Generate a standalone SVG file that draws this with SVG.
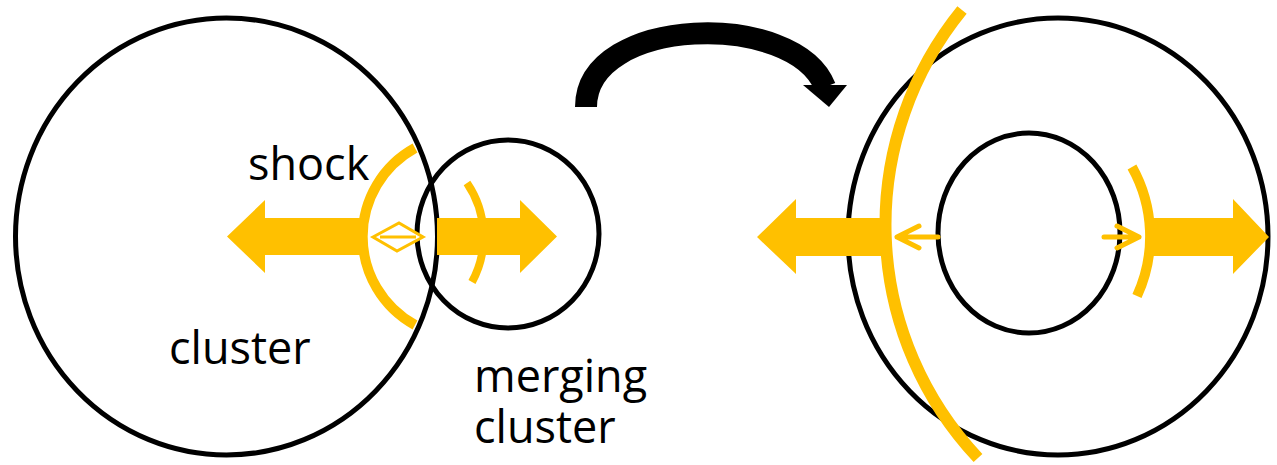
<svg xmlns="http://www.w3.org/2000/svg" width="1277" height="465" viewBox="0 0 1277 465">
  <style>
    .ring { fill: none; stroke: #000; stroke-width: 5; }
    .shock { fill: none; stroke: #FFC000; stroke-linecap: butt; }
    .flow { fill: #FFC000; stroke: none; }
    .thin { fill: none; stroke: #FFC000; stroke-width: 5; stroke-linecap: round; stroke-linejoin: round; }
    .label { font-family: "Open Sans", "Noto Sans", sans-serif; font-size: 45px; fill: #000; }
  </style>

  <!-- before the merger -->
  <g id="main-cluster">
    <ellipse class="ring" cx="226.5" cy="236.5" rx="211" ry="218.5"/>
    <text class="label" x="169" y="364">cluster</text>
  </g>
  <g id="merging-cluster">
    <ellipse class="ring" cx="508" cy="234" rx="91" ry="94"/>
    <text class="label" x="474" y="392">merging</text>
    <text class="label" x="474" y="443">cluster</text>
  </g>
  <g id="shock-left">
    <path class="shock" stroke-width="10" d="M 415 148 A 101 101 0 0 0 415 325"/>
    <text class="label" x="248" y="180">shock</text>
  </g>
  <g id="outflow-left">
    <polygon class="flow" points="227,236.5 265,200 265,218 360,218 360,255 265,255 265,273"/>
    <polygon class="flow" points="557,236.5 520,200 520,218 437,218 437,255 520,255 520,273"/>
    <path class="shock" stroke-width="8" d="M 467 183 A 95 95 0 0 1 472 282"/>
    <polygon fill="#fff" stroke="#FFC000" stroke-width="3" stroke-linejoin="miter" points="373,237 399,223 423,237 397,251"/>
    <line x1="380" y1="237" x2="416" y2="237" stroke="#FFC000" stroke-width="3"/>
  </g>

  <!-- after the merger -->
  <g id="outer-cluster">
    <ellipse class="ring" cx="1058" cy="236.5" rx="210" ry="218.5"/>
  </g>
  <g id="inner-cluster">
    <ellipse class="ring" cx="1029" cy="233" rx="91" ry="100"/>
  </g>
  <g id="shock-right">
    <path class="shock" stroke-width="12" d="M 962 10 A 340 340 0 0 0 978 458"/>
    <path class="shock" stroke-width="10" d="M 1132 167 A 142 142 0 0 1 1137 296"/>
  </g>
  <g id="outflow-right">
    <polygon class="flow" points="757,237 796,199 796,218 884,218 884,256 796,256 796,274"/>
    <polygon class="flow" points="1269,237 1233,199 1233,218 1150,218 1150,256 1233,256 1233,274"/>
    <path class="thin" d="M 938 237 H 897 M 919 226 L 897 237 L 919 248"/>
    <path class="thin" d="M 1104 237 H 1139 M 1117 226 L 1139 237 L 1117 248"/>
  </g>

  <!-- time step -->
  <g id="connectors">
    <path d="M 586 107 C 586 15, 795 10, 825 87" fill="none" stroke="#000" stroke-width="22"/>
    <polygon points="803,85 847,85 829,107" fill="#000"/>
  </g>
</svg>
